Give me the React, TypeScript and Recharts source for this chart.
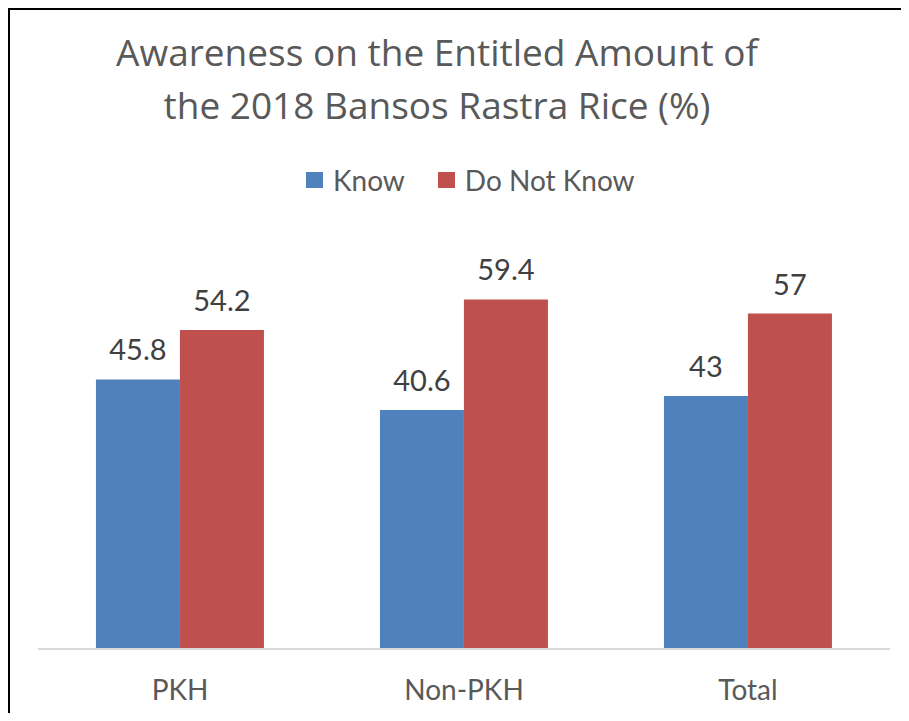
import { BarChart, Bar, XAxis, YAxis, Legend, LabelList } from 'recharts';

const categories = ['PKH', 'Non-PKH', 'Total'];
const knowValues = [45.8, 40.6, 43];
const notKnowValues = [54.2, 59.4, 57];

const FONT = 'Lato, "Open Sans", sans-serif';
const TITLE_FONT = '"Open Sans", Lato, sans-serif';
const TEXT = '#595959';
const LABEL = '#404040';
const BLUE = '#4f81bd';
const RED = '#c0504d';

const data = categories.map((name, i) => ({
  name,
  know: knowValues[i],
  notKnow: notKnowValues[i],
}));

const legendItems = [
  { label: 'Know', color: BLUE },
  { label: 'Do Not Know', color: RED },
];

function renderLegend() {
  return (
    <div style={{ display: 'flex', alignItems: 'center', fontFamily: FONT, fontSize: 28, color: TEXT, lineHeight: '30px' }}>
      {legendItems.map((item, i) => (
        <div key={item.label} style={{ display: 'flex', alignItems: 'center', marginRight: i === 0 ? 33 : 0 }}>
          <span style={{ width: 17, height: 16, background: item.color, display: 'inline-block', marginRight: 10 }} />
          <span>{item.label}</span>
        </div>
      ))}
    </div>
  );
}

export default function App() {
  return (
    <div style={{ margin: -8, width: 909, height: 721, padding: 8, boxSizing: 'border-box', background: '#f2f2f2', overflow: 'hidden' }}>
      <div
        style={{
          position: 'relative',
          width: 901,
          height: 713,
          boxSizing: 'border-box',
          borderTop: '2px solid #000',
          borderLeft: '2px solid #000',
          background: '#fff',
        }}
      >
        {/* chart title, two lines */}
        <div
          style={{
            position: 'absolute',
            left: 0,
            top: 15,
            width: 854,
            textAlign: 'center',
            fontFamily: TITLE_FONT,
            fontSize: 37,
            lineHeight: '53px',
            color: TEXT,
          }}
        >
          Awareness on the Entitled Amount of
          <br />
          the 2018 Bansos Rastra Rice (%)
        </div>
        <BarChart
          width={899}
          height={711}
          data={data}
          margin={{ top: 227, right: 19, bottom: 0, left: 28 }}
          barCategoryGap="20.4%"
          barGap={0}
        >
          <XAxis
            dataKey="name"
            height={72}
            axisLine={{ stroke: '#d9d9d9', strokeWidth: 2 }}
            tickLine={false}
            tickMargin={25}
            tick={{ fill: TEXT, fontSize: 28, fontFamily: FONT }}
          />
          <YAxis hide domain={[0, 70]} />
          <Legend
            verticalAlign="middle"
            align="center"
            content={renderLegend}
            wrapperStyle={{ top: 155, left: 296, width: 500, height: 30 }}
          />
          <Bar dataKey="know" name="Know" fill={BLUE} isAnimationActive={false}>
            <LabelList dataKey="know" position="top" offset={19} fill={LABEL} fontSize={29} fontFamily={FONT} />
          </Bar>
          <Bar dataKey="notKnow" name="Do Not Know" fill={RED} isAnimationActive={false}>
            <LabelList dataKey="notKnow" position="top" offset={19} fill={LABEL} fontSize={29} fontFamily={FONT} />
          </Bar>
        </BarChart>
      </div>
    </div>
  );
}
